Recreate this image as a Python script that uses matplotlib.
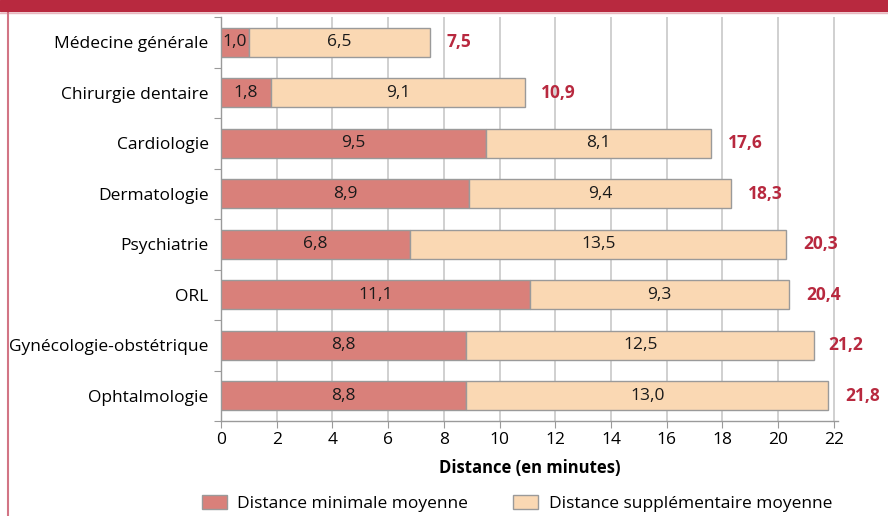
import matplotlib.pyplot as plt
from matplotlib.patches import Rectangle, Patch
from matplotlib.lines import Line2D

# data
specialites = ["Médecine générale", "Chirurgie dentaire", "Cardiologie",
               "Dermatologie", "Psychiatrie", "ORL",
               "Gynécologie-obstétrique", "Ophtalmologie"]
dist_min = [1.0, 1.8, 9.5, 8.9, 6.8, 11.1, 8.8, 8.8]
dist_sup = [6.5, 9.1, 8.1, 9.4, 13.5, 9.3, 12.5, 13.0]
totaux = [7.5, 10.9, 17.6, 18.3, 20.3, 20.4, 21.2, 21.8]

ROUGE = "#D9807A"
BEIGE = "#FAD8B3"
BORD = "#9A9A9A"
TITRE = "#B8293F"
FS = 12.5

plt.rcParams['font.family'] = ['Open Sans', 'DejaVu Sans']

fig = plt.figure(figsize=(8.88, 5.16), dpi=100)
ax = fig.add_axes([221 / 888, 1 - 421 / 516, (838 - 221) / 888, (421 - 17) / 516])

y = list(range(len(specialites)))
ax.barh(y, dist_min, height=0.58, color=ROUGE, edgecolor=BORD, linewidth=1, zorder=3)
ax.barh(y, dist_sup, left=dist_min, height=0.58, color=BEIGE, edgecolor=BORD,
        linewidth=1, zorder=3)

def fmt(v):
    return f"{v:.1f}".replace(".", ",")

for i in y:
    ax.text(dist_min[i] / 2, i, fmt(dist_min[i]), ha="center", va="center",
            fontsize=FS, color="#1a1a1a", zorder=4)
    ax.text(dist_min[i] + dist_sup[i] / 2, i, fmt(dist_sup[i]), ha="center",
            va="center", fontsize=FS, color="#1a1a1a", zorder=4)
    ax.text(totaux[i] + 0.6, i, fmt(totaux[i]), ha="left", va="center",
            fontsize=FS, fontweight="bold", color=TITRE, zorder=4)

ax.set_xlim(0, 22.15)
ax.set_ylim(7.5, -0.5)
ax.set_xticks(range(0, 23, 2))
ax.set_xticklabels([str(v) for v in range(0, 23, 2)], fontsize=FS)
ax.set_yticks([i - 0.5 for i in range(len(specialites) + 1)])
ax.set_yticklabels([])
ax.set_yticks(y, minor=True)
ax.set_yticklabels(specialites, minor=True, fontsize=FS)
ax.tick_params(axis="y", which="minor", length=0, pad=9)
ax.tick_params(axis="y", which="major", length=5, color=BORD, direction="out")
ax.tick_params(axis="x", length=5, color=BORD, pad=3)
ax.grid(axis="x", color="#C8C8C8", linewidth=1.2, zorder=0)
for s in ["top", "right"]:
    ax.spines[s].set_visible(False)
for s in ["left", "bottom"]:
    ax.spines[s].set_color(BORD)
    ax.spines[s].set_linewidth(1)

ax.set_xlabel("Distance (en minutes)", fontsize=12, fontweight="bold", labelpad=8)

handles = [Patch(facecolor=ROUGE, edgecolor=BORD), Patch(facecolor=BEIGE, edgecolor=BORD)]
fig.legend(handles, ["Distance minimale moyenne", "Distance supplémentaire moyenne"],
           ncol=2, loc="lower center", bbox_to_anchor=(0.582, -0.022), frameon=False,
           fontsize=FS, handlelength=1.45, handleheight=0.85, columnspacing=2.6,
           handletextpad=0.6)

# cadre de la page
fig.patches.append(Rectangle((0, 1 - 11 / 516), 1, 11 / 516, transform=fig.transFigure,
                             color=TITRE, zorder=5))
fig.lines.append(Line2D([0, 1], [1 - 12.5 / 516] * 2, transform=fig.transFigure,
                        color="#E8B8C0", linewidth=1))
fig.lines.append(Line2D([7.5 / 888] * 2, [0, 1 - 11 / 516], transform=fig.transFigure,
                        color="#D27585", linewidth=1.5))

fig.savefig("out.png", dpi=100)
